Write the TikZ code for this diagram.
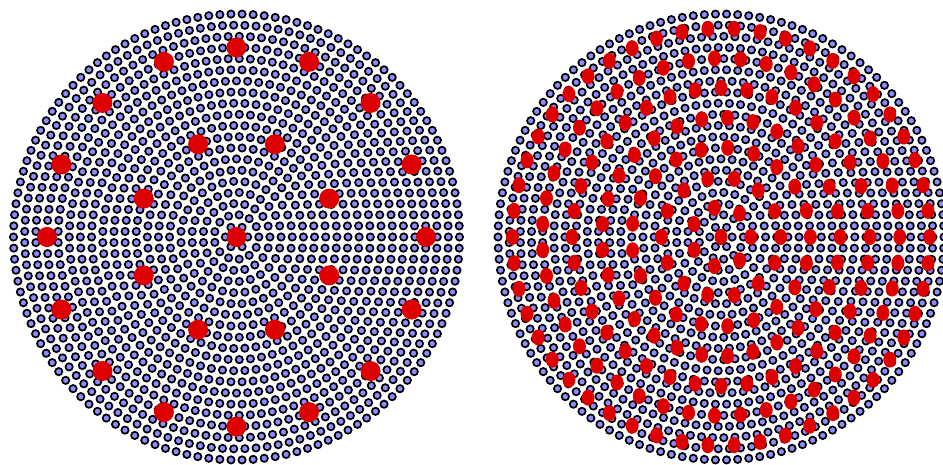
\documentclass[tikz,border=0pt]{standalone}
\usepackage{tikz}

\definecolor{corefill}{RGB}{140,140,255}
\definecolor{markred}{RGB}{221,0,0}

\tikzset{
  core/.style={draw=black, fill=corefill, line width=1.7pt},  % 小圆芯
  bigmark/.style={fill=markred},                              % 左图红点
  smallmark/.style={fill=markred}                             % 右图红点
}

\def\ringgap{11.15}  % 相邻圆环间距
\def\coresize{3.65}  % 小圆半径

\begin{document}
\begin{tikzpicture}[x=1pt, y=1pt]
  \useasboundingbox (0,0) rectangle (943,464);

  % =============== 左图: 同心圆环排布 + 稀疏标记 ===============
  \begin{scope}[shift={(236.5,227)}]
    \draw[core] (0,0) circle[radius=\coresize];
    \foreach \k in {1,...,20}{
      \pgfmathtruncatemacro\cnt{round(2*pi*\k)}
      \pgfmathsetmacro\step{360/\cnt}
      \foreach \j in {1,...,\cnt}
        \draw[core] ({\step*\j}:{\k*\ringgap}) circle[radius=\coresize];
    }
    % 标记: 中心, 第9环8个, 第17环16个
    \fill[bigmark] (0,0) circle[radius=10];
    \foreach \a in {0,...,7}
      \fill[bigmark] ({22.5+45*\a}:{9*\ringgap}) circle[radius=10];
    \foreach \a in {0,...,15}
      \fill[bigmark] ({22.5*\a}:{17*\ringgap}) circle[radius=10];
  \end{scope}

  % =============== 右图: 同样排布 + 密集标记 ===============
  \begin{scope}[shift={(721,227)}]
    \draw[core] (0,0) circle[radius=\coresize];
    \foreach \k in {1,...,20}{
      \pgfmathtruncatemacro\cnt{round(2*pi*\k)}
      \pgfmathsetmacro\step{360/\cnt}
      \foreach \j in {1,...,\cnt}
        \draw[core] ({\step*\j}:{\k*\ringgap}) circle[radius=\coresize];
    }
    % 标记环: 环号/个数
    \fill[smallmark] (0,0) ellipse[x radius=6.5, y radius=8];
    \foreach \m/\cnt in {1/7, 2/14, 3/21, 4/29, 5/36, 6/43, 7/50}{
      \pgfmathsetmacro\step{360/\cnt}
      \foreach \j in {1,...,\cnt}
        \fill[smallmark] ({\step*\j}:{29.8*\m}) ellipse[x radius=6.5, y radius=8];
    }
  \end{scope}

\end{tikzpicture}
\end{document}
